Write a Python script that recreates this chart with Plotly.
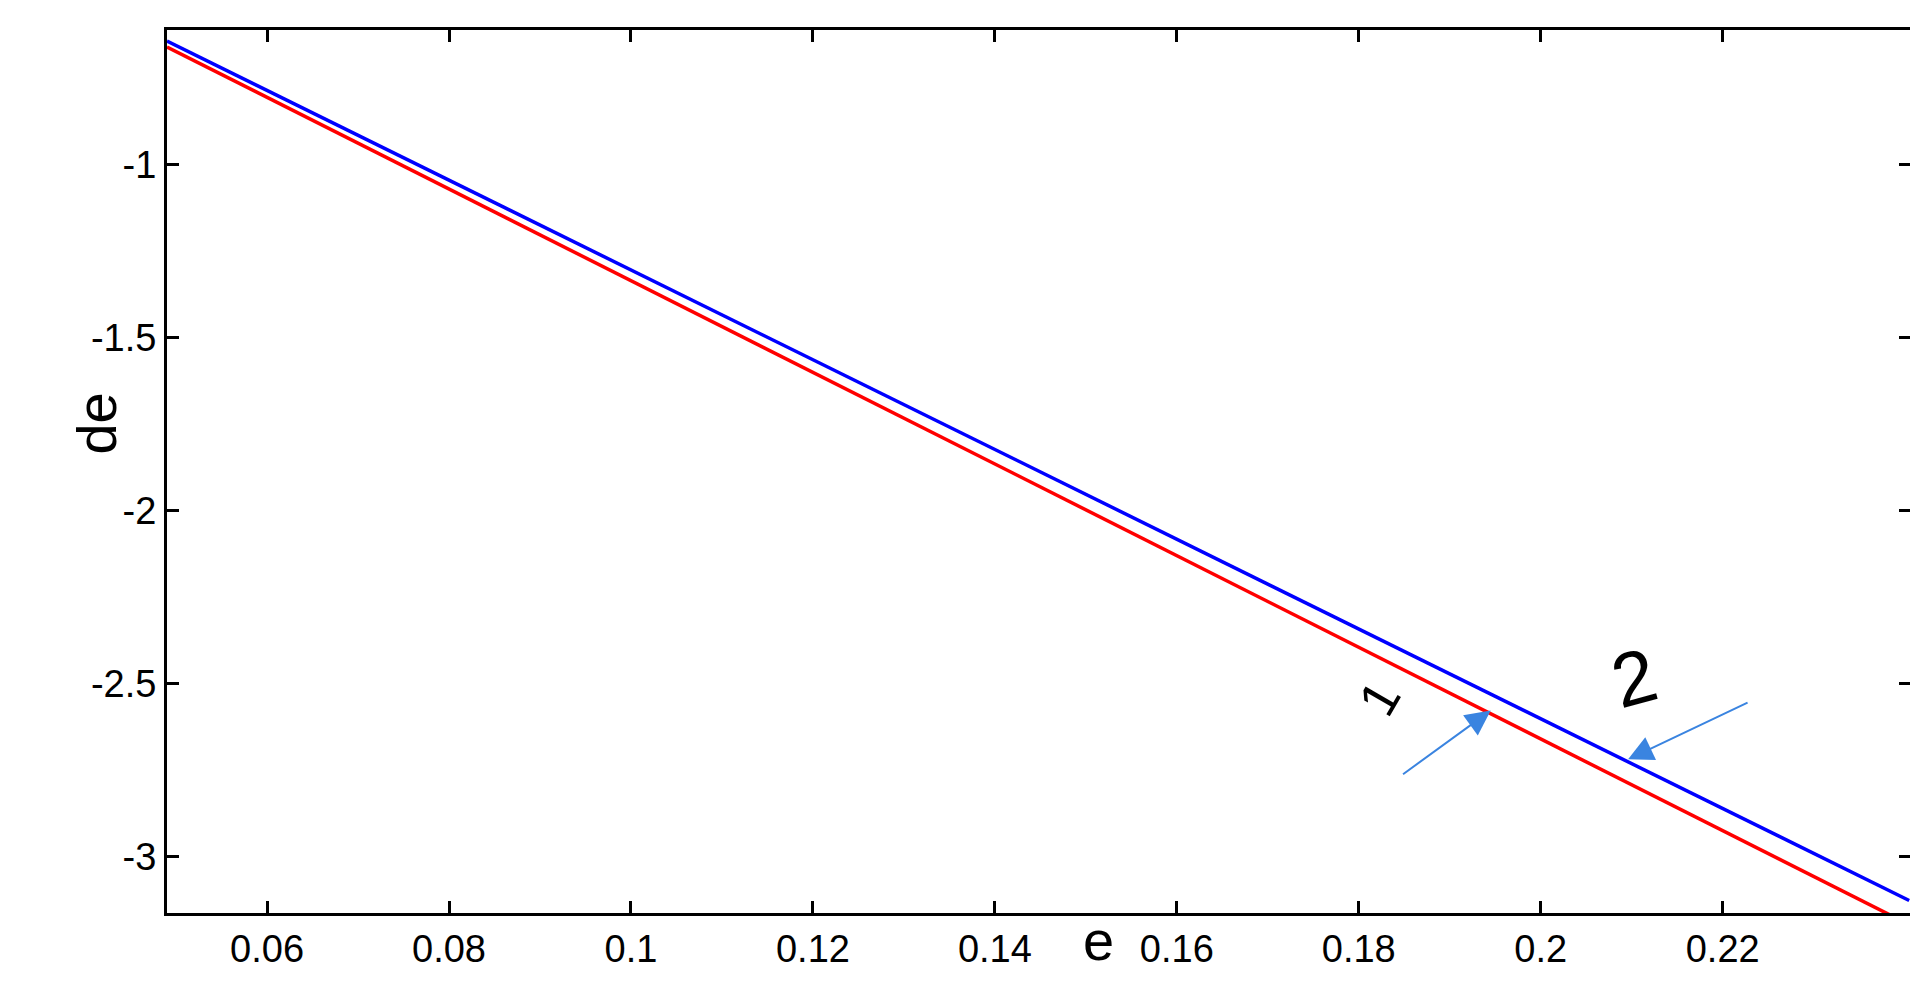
import plotly.graph_objects as go

e_red = [0.049, 0.10, 0.15, 0.20, 0.2385]
de_red = [-0.660, -1.335, -1.997, -2.659, -3.170]
e_blue = [0.049, 0.10, 0.15, 0.20, 0.2405]
de_blue = [-0.643, -1.305, -1.953, -2.602, -3.127]

fig = go.Figure()
fig.add_trace(go.Scatter(x=e_red, y=de_red, mode="lines", line=dict(color="#ff0000", width=3.5), showlegend=False))
fig.add_trace(go.Scatter(x=e_blue, y=de_blue, mode="lines", line=dict(color="#0000ff", width=3.5), showlegend=False))

arrow_col = "#3a84e0"
fig.add_annotation(x=0.1945, y=-2.578, ax=0.1847, ay=-2.765, xref="x", yref="y", axref="x", ayref="y",
                   showarrow=True, arrowhead=2, arrowsize=2.5, arrowwidth=2, arrowcolor=arrow_col, text="")
fig.add_annotation(x=0.2096, y=-2.719, ax=0.2229, ay=-2.553, xref="x", yref="y", axref="x", ayref="y",
                   showarrow=True, arrowhead=2, arrowsize=2.5, arrowwidth=2, arrowcolor=arrow_col, text="")
fig.add_annotation(x=0.1823, y=-2.542, text="1", showarrow=False, textangle=-60,
                   font=dict(size=52, color="black", family="Liberation Sans"))
fig.add_annotation(x=0.2103, y=-2.482, text="2", showarrow=False, textangle=-15,
                   font=dict(size=76, color="black", family="Liberation Sans"))
fig.add_annotation(x=0.534, y=-0.069, xref="paper", yref="paper", text="e", showarrow=False,
                   font=dict(size=56, color="black", family="Liberation Sans"))
fig.add_annotation(x=-0.0595, y=0.554, xref="paper", yref="paper", text="de", showarrow=False, textangle=-90,
                   font=dict(size=56, color="black", family="Liberation Sans"))

axis_common = dict(showline=True, linecolor="black", linewidth=3, mirror="ticks", ticks="inside",
                   ticklen=12, tickwidth=3, tickcolor="black", showgrid=False, zeroline=False,
                   tickfont=dict(size=38, color="black", family="Liberation Sans"))
fig.update_xaxes(range=[0.049, 0.2407], tickvals=[0.06, 0.08, 0.1, 0.12, 0.14, 0.16, 0.18, 0.2, 0.22],
                 ticktext=["0.06", "0.08", "0.1", "0.12", "0.14", "0.16", "0.18", "0.2", "0.22"],
                 **axis_common)
fig.update_yaxes(range=[-3.163, -0.611], tickvals=[-1, -1.5, -2, -2.5, -3],
                 ticktext=["-1", "-1.5", "-2", "-2.5", "-3"],
                 **axis_common)
fig.update_layout(width=1918, height=996, plot_bgcolor="white", paper_bgcolor="white",
                  margin=dict(l=159, r=12, t=22, b=91))
fig.write_html("out.html")
